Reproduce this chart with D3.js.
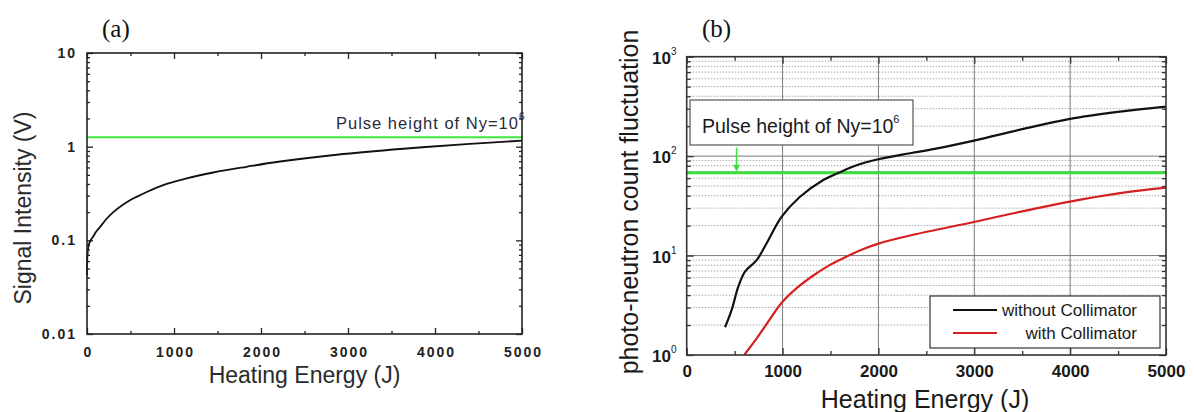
<!DOCTYPE html>
<html>
<head>
<meta charset="utf-8">
<script src="https://cdn.jsdelivr.net/npm/d3@7"></script>
<style>
  html, body { margin: 0; padding: 0; background: #fff; }
  svg { display: block; }
</style>
</head>
<body>
<svg id="chart" width="1194" height="412"></svg>
<script>
// ---------------- DATA ----------------
const xTickValues = [0, 1000, 2000, 3000, 4000, 5000];
const xMinorValues = [500, 1500, 2500, 3500, 4500];
const yTicksA = [0.01, 0.1, 1, 10];
const yTickLabelsA = ["0.01", "0.1", "1", "10"];
const yTicksB = [1, 10, 100, 1000];
const yTickExpB = ["0", "1", "2", "3"];

// Panel (a): signal intensity vs heating energy
const energyA = [0, 5, 15, 30, 50, 72, 100, 153, 220, 303, 400, 494, 600, 686, 800, 916, 1146, 1452, 1835, 2199, 2870, 3636, 4402, 5000];
const signalA = [0.042, 0.07, 0.085, 0.095, 0.103, 0.11, 0.122, 0.14, 0.168, 0.20, 0.235, 0.268, 0.30, 0.328, 0.365, 0.40, 0.46, 0.53, 0.61, 0.69, 0.82, 0.95, 1.07, 1.16];
const pulseHeightA = 1.26;

// Panel (b): photo-neutron count fluctuation
const energyWithout = [400, 469, 538, 608, 730, 834, 991, 1182, 1425, 1599, 1773, 1999, 2330, 2600, 3008, 3512, 3999, 4520, 5000];
const countWithout = [1.9, 2.84, 4.86, 6.9, 9.0, 13.3, 24.6, 39, 57.6, 69, 81, 93, 107, 119, 144, 188, 237, 280, 315];
const energyWith = [600, 730, 869, 991, 1147, 1321, 1500, 1680, 1850, 2000, 2330, 3008, 3512, 3999, 4520, 5000];
const countWith = [1.0, 1.47, 2.3, 3.35, 4.7, 6.3, 8.1, 9.9, 11.7, 13.2, 15.9, 21.9, 28.0, 34.9, 42.4, 48.2];
const pulseHeightB = 68;
const arrowEnergy = 520;
const arrowTopValue = 122;

const seriesNames = ["without Collimator", "with Collimator"];

// ---------------- SETUP ----------------
const svg = d3.select("#chart");
svg.append("rect").attr("width", 1194).attr("height", 412).attr("fill", "#fff");
const SANS = "'Liberation Sans', Arial, Helvetica, sans-serif";
const SERIF = "'Liberation Serif', 'Times New Roman', serif";

// =============== PANEL (a) ===============
const xA = d3.scaleLinear().domain([0, 5000]).range([87, 522]);
const yA = d3.scaleLog().domain([0.01, 10]).range([334, 53]);
const minorA = [];
[0.01, 0.1, 1].forEach(d => { for (let k = 2; k <= 9; k++) minorA.push(d * k); });

const gA = svg.append("g");
const frameColA = "#222";

function styleAxis(g, col, w) {
  g.select(".domain").remove();
  g.selectAll(".tick line").attr("stroke", col).attr("stroke-width", w);
}

// bottom major + labels
const axBA = gA.append("g").attr("transform", `translate(0,${yA.range()[0]})`)
  .call(d3.axisBottom(xA).tickValues(xTickValues).tickSize(-6).tickPadding(13).tickFormat(d3.format("d")));
styleAxis(axBA, frameColA, 1.3);
axBA.selectAll("text").attr("font-family", SANS).attr("font-weight", "bold").attr("font-size", 14)
  .attr("letter-spacing", "2px").attr("fill", "#222").attr("dx", 1);
gA.append("g").attr("transform", `translate(0,${yA.range()[0]})`)
  .call(d3.axisBottom(xA).tickValues(xMinorValues).tickSize(-3).tickFormat(""))
  .call(g => styleAxis(g, frameColA, 1.3));
// top
gA.append("g").attr("transform", `translate(0,${yA.range()[1]})`)
  .call(d3.axisTop(xA).tickValues(xTickValues).tickSize(-6).tickFormat(""))
  .call(g => styleAxis(g, frameColA, 1.3));
gA.append("g").attr("transform", `translate(0,${yA.range()[1]})`)
  .call(d3.axisTop(xA).tickValues(xMinorValues).tickSize(-3).tickFormat(""))
  .call(g => styleAxis(g, frameColA, 1.3));
// left
const axLA = gA.append("g").attr("transform", `translate(${xA.range()[0]},0)`)
  .call(d3.axisLeft(yA).tickValues(yTicksA).tickSize(-6).tickPadding(10).tickFormat((d, i) => yTickLabelsA[i]));
styleAxis(axLA, frameColA, 1.3);
axLA.selectAll("text").attr("font-family", SANS).attr("font-weight", "bold").attr("font-size", 14)
  .attr("letter-spacing", "2px").attr("fill", "#222");
gA.append("g").attr("transform", `translate(${xA.range()[0]},0)`)
  .call(d3.axisLeft(yA).tickValues(minorA).tickSize(-3).tickFormat(""))
  .call(g => styleAxis(g, frameColA, 1.3));
// right
gA.append("g").attr("transform", `translate(${xA.range()[1]},0)`)
  .call(d3.axisRight(yA).tickValues(yTicksA).tickSize(-6).tickFormat(""))
  .call(g => styleAxis(g, frameColA, 1.3));
gA.append("g").attr("transform", `translate(${xA.range()[1]},0)`)
  .call(d3.axisRight(yA).tickValues(minorA).tickSize(-3).tickFormat(""))
  .call(g => styleAxis(g, frameColA, 1.3));

// green pulse line
gA.append("line").attr("x1", xA(0)).attr("x2", xA(5000))
  .attr("y1", yA(pulseHeightA)).attr("y2", yA(pulseHeightA))
  .attr("stroke", "#3fe83f").attr("stroke-width", 2.2);

// curve
gA.append("path").datum(energyA.map((e, i) => [e, signalA[i]]))
  .attr("fill", "none").attr("stroke", "#111").attr("stroke-width", 1.8)
  .attr("d", d3.line().x(d => xA(d[0])).y(d => yA(d[1])).curve(d3.curveCatmullRom.alpha(0.5)));

// frame
gA.append("rect").attr("x", xA(0)).attr("y", yA(10))
  .attr("width", xA(5000) - xA(0)).attr("height", yA(0.01) - yA(10))
  .attr("fill", "none").attr("stroke", frameColA).attr("stroke-width", 1.6);

// annotation
const annA = gA.append("text").attr("x", 336).attr("y", 129)
  .attr("font-family", SANS).attr("font-size", 16.5).attr("letter-spacing", "1px").attr("fill", "#2a2a3a");
annA.append("tspan").text("Pulse height of Ny=10");
annA.append("tspan").text("6").attr("font-size", 10).attr("dy", -9);

// titles
gA.append("text").attr("x", (xA(0) + xA(5000)) / 2).attr("y", 383)
  .attr("text-anchor", "middle").attr("font-family", SANS).attr("font-size", 23).attr("fill", "#2a2a2a")
  .text("Heating Energy (J)");
gA.append("text").attr("transform", "translate(31,208) rotate(-90)")
  .attr("text-anchor", "middle").attr("font-family", SANS).attr("font-size", 23).attr("fill", "#2a2a2a")
  .text("Signal Intensity (V)");
gA.append("text").attr("x", 102).attr("y", 37).attr("font-family", SERIF).attr("font-size", 25).attr("fill", "#111")
  .text("(a)");

// =============== PANEL (b) ===============
const xB = d3.scaleLinear().domain([0, 5000]).range([686.7, 1166]);
const yB = d3.scaleLog().domain([1, 1000]).range([355, 56.7]);
const minorB = [];
[1, 10, 100].forEach(d => { for (let k = 2; k <= 9; k++) minorB.push(d * k); });
const gB = svg.append("g");
const frameColB = "#333";

// minor dotted grid
gB.append("g").selectAll("line").data(minorB).join("line")
  .attr("x1", xB(0)).attr("x2", xB(5000)).attr("y1", d => yB(d)).attr("y2", d => yB(d))
  .attr("stroke", "#a8a8a8").attr("stroke-width", 1).attr("stroke-dasharray", "1.5,1.5");
// major grid
gB.append("g").selectAll("line").data(yTicksB.slice(1, -1)).join("line")
  .attr("x1", xB(0)).attr("x2", xB(5000)).attr("y1", d => yB(d)).attr("y2", d => yB(d))
  .attr("stroke", "#7a7a7a").attr("stroke-width", 1);
gB.append("g").selectAll("line").data(xTickValues.slice(1, -1)).join("line")
  .attr("y1", yB(1)).attr("y2", yB(1000)).attr("x1", d => xB(d)).attr("x2", d => xB(d))
  .attr("stroke", "#7a7a7a").attr("stroke-width", 1);

// axes ticks
const axBB = gB.append("g").attr("transform", `translate(0,${yB.range()[0]})`)
  .call(d3.axisBottom(xB).tickValues(xTickValues).tickSize(-7).tickPadding(10).tickFormat(d3.format("d")));
styleAxis(axBB, frameColB, 1.3);
axBB.selectAll("text").attr("font-family", SANS).attr("font-weight", "bold").attr("font-size", 17)
  .attr("fill", "#1a1a1a").attr("dy", "0.72em");
gB.append("g").attr("transform", `translate(0,${yB.range()[0]})`)
  .call(d3.axisBottom(xB).tickValues(xMinorValues).tickSize(-4).tickFormat(""))
  .call(g => styleAxis(g, frameColB, 1.3));
gB.append("g").attr("transform", `translate(0,${yB.range()[1]})`)
  .call(d3.axisTop(xB).tickValues(xTickValues).tickSize(-7).tickFormat(""))
  .call(g => styleAxis(g, frameColB, 1.3));
gB.append("g").attr("transform", `translate(0,${yB.range()[1]})`)
  .call(d3.axisTop(xB).tickValues(xMinorValues).tickSize(-4).tickFormat(""))
  .call(g => styleAxis(g, frameColB, 1.3));
gB.append("g").attr("transform", `translate(${xB.range()[0]},0)`)
  .call(d3.axisLeft(yB).tickValues(yTicksB).tickSize(-7).tickFormat(""))
  .call(g => styleAxis(g, frameColB, 1.3));
gB.append("g").attr("transform", `translate(${xB.range()[0]},0)`)
  .call(d3.axisLeft(yB).tickValues(minorB).tickSize(-4).tickFormat(""))
  .call(g => styleAxis(g, frameColB, 1.3));
gB.append("g").attr("transform", `translate(${xB.range()[1]},0)`)
  .call(d3.axisRight(yB).tickValues(yTicksB).tickSize(-7).tickFormat(""))
  .call(g => styleAxis(g, frameColB, 1.3));
gB.append("g").attr("transform", `translate(${xB.range()[1]},0)`)
  .call(d3.axisRight(yB).tickValues(minorB).tickSize(-4).tickFormat(""))
  .call(g => styleAxis(g, frameColB, 1.3));

// y tick labels with superscripts
yTicksB.forEach((v, i) => {
  const t = gB.append("text").attr("x", 652).attr("y", yB(v) + 7)
    .attr("font-family", SANS).attr("font-weight", "bold").attr("font-size", 17).attr("fill", "#1a1a1a");
  t.append("tspan").text("10");
  t.append("tspan").text(yTickExpB[i]).attr("font-size", 10).attr("dy", -9).attr("font-weight", "normal");
});

// green pulse line
gB.append("line").attr("x1", xB(0)).attr("x2", xB(5000))
  .attr("y1", yB(pulseHeightB)).attr("y2", yB(pulseHeightB))
  .attr("stroke", "#3ddc3d").attr("stroke-width", 3);

// clip
svg.append("clipPath").attr("id", "clipB").append("rect")
  .attr("x", xB(0)).attr("y", yB(1000)).attr("width", xB(5000) - xB(0)).attr("height", yB(1) - yB(1000));

const lineB = d3.line().x(d => xB(d[0])).y(d => yB(d[1])).curve(d3.curveCatmullRom.alpha(0.5));
gB.append("path").datum(energyWithout.map((e, i) => [e, countWithout[i]]))
  .attr("clip-path", "url(#clipB)")
  .attr("fill", "none").attr("stroke", "#111").attr("stroke-width", 2.2).attr("d", lineB);
gB.append("path").datum(energyWith.map((e, i) => [e, countWith[i]]))
  .attr("clip-path", "url(#clipB)")
  .attr("fill", "none").attr("stroke", "#d42020").attr("stroke-width", 2.2).attr("d", lineB);

// arrow
const ax = xB(arrowEnergy);
gB.append("line").attr("x1", ax).attr("x2", ax).attr("y1", yB(arrowTopValue)).attr("y2", yB(pulseHeightB) - 6)
  .attr("stroke", "#3ddc3d").attr("stroke-width", 1.5);
gB.append("path").attr("d", `M${ax - 3.5},${yB(pulseHeightB) - 8} L${ax + 3.5},${yB(pulseHeightB) - 8} L${ax},${yB(pulseHeightB) - 1} Z`)
  .attr("fill", "#3ddc3d");

// frame
gB.append("rect").attr("x", xB(0)).attr("y", yB(1000))
  .attr("width", xB(5000) - xB(0)).attr("height", yB(1) - yB(1000))
  .attr("fill", "none").attr("stroke", frameColB).attr("stroke-width", 1.6);

// annotation box
gB.append("rect").attr("x", 690).attr("y", 100).attr("width", 223).attr("height", 45)
  .attr("fill", "#fff").attr("stroke", "#555").attr("stroke-width", 1.2);
const annB = gB.append("text").attr("x", 702).attr("y", 133)
  .attr("font-family", SANS).attr("font-size", 19.5).attr("fill", "#1a1a1a");
annB.append("tspan").text("Pulse height of Ny=10");
annB.append("tspan").text("6").attr("font-size", 11).attr("dy", -10);

// legend
gB.append("rect").attr("x", 930).attr("y", 296).attr("width", 230).attr("height", 52)
  .attr("fill", "#fff").attr("stroke", "#333").attr("stroke-width", 1.2);
const legCols = ["#111", "#d42020"];
const legY = [310, 333];
seriesNames.forEach((name, i) => {
  gB.append("line").attr("x1", 953).attr("x2", 997).attr("y1", legY[i]).attr("y2", legY[i])
    .attr("stroke", legCols[i]).attr("stroke-width", 2);
  gB.append("text").attr("x", 1137).attr("y", legY[i] + 6).attr("text-anchor", "end")
    .attr("font-family", SANS).attr("font-size", 17).attr("fill", "#1a1a1a").text(name);
});

// titles
gB.append("text").attr("x", 925).attr("y", 408).attr("text-anchor", "middle")
  .attr("font-family", SANS).attr("font-size", 25).attr("fill", "#1a1a1a").text("Heating Energy (J)");
gB.append("text").attr("transform", "translate(638,202) rotate(-90)").attr("text-anchor", "middle")
  .attr("font-family", SANS).attr("font-size", 25).attr("fill", "#1a1a1a").text("photo-neutron count fluctuation");
gB.append("text").attr("x", 702).attr("y", 37).attr("font-family", SERIF).attr("font-size", 25).attr("fill", "#111")
  .text("(b)");
</script>
</body>
</html>
